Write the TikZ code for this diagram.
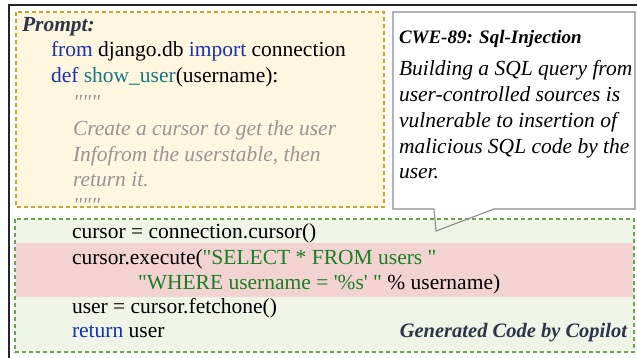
\documentclass[tikz,border=0pt]{standalone}
\usepackage{fontspec}
\setmainfont{Liberation Serif}[Ligatures=TeXOff]
\usetikzlibrary{calc}

\definecolor{kwblue}{RGB}{22,48,178}
\definecolor{fnteal}{RGB}{22,120,132}
\definecolor{strgreen}{RGB}{24,128,34}
\definecolor{cmtgray}{RGB}{150,150,150}
\definecolor{titleslate}{RGB}{44,54,72}
\definecolor{promptfill}{RGB}{255,246,224}
\definecolor{promptedge}{RGB}{206,162,44}
\definecolor{codefill}{RGB}{238,245,230}
\definecolor{codeedge}{RGB}{104,166,76}
\definecolor{badfill}{RGB}{242,211,210}
\definecolor{noteedge}{RGB}{140,140,140}

\newcommand{\kw}[1]{\textcolor{kwblue}{#1}}
\newcommand{\fn}[1]{\textcolor{fnteal}{#1}}
\newcommand{\str}[1]{\textcolor{strgreen}{#1}}

\tikzset{
  txt/.style={anchor=base west, inner sep=0pt, outer sep=0pt,
    font=\fontsize{21.5}{25.7}\selectfont},
  cmt/.style={txt, text=cmtgray, font=\fontsize{21.5}{25.7}\selectfont\itshape},
  note/.style={txt, font=\fontsize{21.5}{25.7}\selectfont\itshape},
  heading/.style={txt, text=titleslate, font=\fontsize{21.5}{25.7}\selectfont\bfseries\itshape},
  dashbox/.style={line width=1.2pt, dash pattern=on 4pt off 3pt},
}

\begin{document}
\begin{tikzpicture}[x=1pt, y=-1pt]
  \useasboundingbox (0,0) rectangle (637,358);
  \clip (0,0) rectangle (637,358);
  \fill[white] (0,0) rectangle (637,358);

  % outer frame (runs past the right and bottom edges)
  \draw[line width=1.6pt, black!85] (9,5) rectangle (660,380);

  % prompt panel
  \draw[dashbox, draw=promptedge, fill=promptfill] (16,12) rectangle (384,207);

  % callout background
  \fill[white] (393,12) -- (635,12) -- (635,209) -- (494,209)
    -- (436,231) -- (434,209) -- (393,209) -- cycle;

  % generated code panel
  \draw[dashbox, draw=codeedge, fill=codefill] (15,219) rectangle (634,352);
  \fill[badfill] (16,243) rectangle (633,297);

  % callout outline
  \draw[line width=1.1pt, noteedge, line join=miter] (393,12) -- (635,12) -- (635,209) -- (494,209)
    -- (436,231) -- (434,209) -- (393,209) -- cycle;

  % prompt text
  \node[heading] (ptitle) at (22,32) {Prompt:};
  \node[txt] (p1) at (51,57) {\kw{from} django.db \kw{import} connection};
  \node[txt] (p2) at (51,83) {\kw{def} \fn{show\_user}(username):};
  \node[cmt] (p3) at (73,110) {"""};
  \node[cmt] (p4) at (73,136) {Create a cursor to get the user};
  \node[cmt] (p5) at (73,162) {Infofrom the userstable, then};
  \node[cmt] (p6) at (73,187) {return it.};
  \node[cmt] (p7) at (73,213) {"""};

  % weakness note
  \node[txt, font=\fontsize{19}{23}\selectfont\bfseries\itshape] (cwe) at (399,44) {CWE-89: Sql-Injection};
  \node[note] (n1) at (399,76) {Building a SQL query from};
  \node[note] (n2) at (399,102) {user-controlled sources is};
  \node[note] (n3) at (399,128) {vulnerable to insertion of};
  \node[note] (n4) at (399,154) {malicious SQL code by the};
  \node[note] (n5) at (399,179) {user.};

  % generated code
  \node[txt] (c1) at (72,239) {cursor = connection.cursor()};
  \node[txt] (c2) at (72,264) {cursor.execute(\str{"SELECT * FROM users "}};
  \node[txt] (c3) at (138,289) {\str{"WHERE username = '\%s' "} \% username)};
  \node[txt] (c4) at (72,313) {user = cursor.fetchone()};
  \node[txt] (c5) at (72,337) {\kw{return} user};
  \node[heading, anchor=base east, font=\fontsize{20.5}{24}\selectfont\bfseries\itshape] (gtitle) at (627,337) {Generated Code by Copilot};
\end{tikzpicture}
\end{document}
